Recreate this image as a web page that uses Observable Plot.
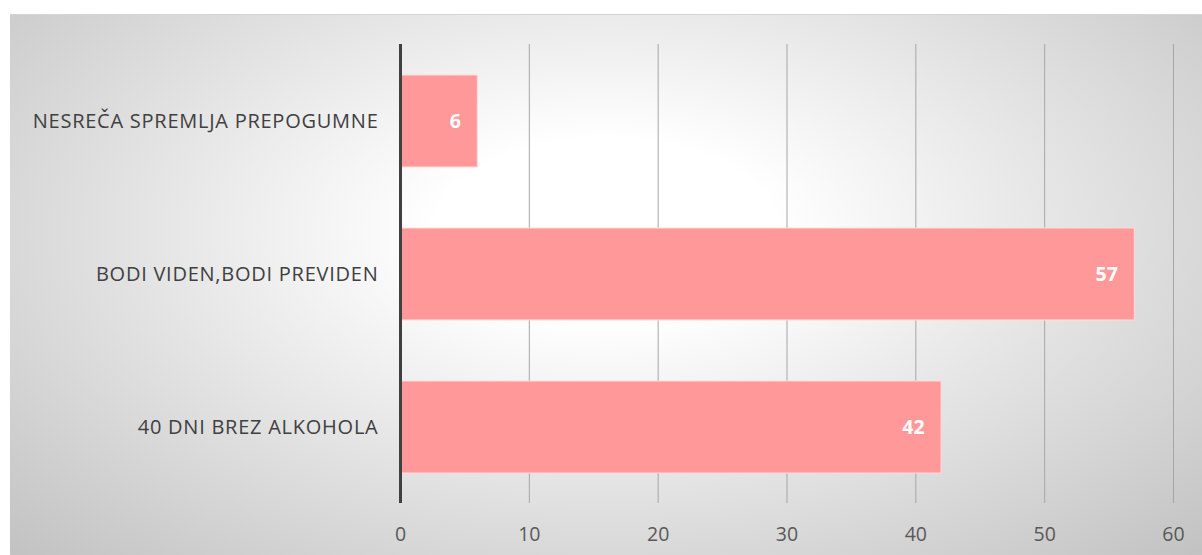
<!DOCTYPE html>
<html>
<head>
<meta charset="utf-8">
<script src="https://cdn.jsdelivr.net/npm/d3@7"></script>
<script src="https://cdn.jsdelivr.net/npm/@observablehq/plot@0.6"></script>
<style>
  html, body { margin: 0; padding: 0; background: #ffffff; }
  #chart { position: absolute; left: 10px; top: 14px; width: 1192px; height: 541px;
    border-top: 1px solid #d4d4d4; box-sizing: border-box;
    background: radial-gradient(ellipse farthest-corner at 50% 40%, #ffffff 0%, #ffffff 20%, #e4e4e4 55%, #c2c2c2 100%); }
  #chart svg { display: block; background: transparent; }
  #chart g[aria-label="y-axis tick label"] text { letter-spacing: 0.75px; }
</style>
</head>
<body>
<div id="chart"></div>
<script>
const categories = ["NESREČA SPREMLJA PREPOGUMNE", "BODI VIDEN,BODI PREVIDEN", "40 DNI BREZ ALKOHOLA"];
const values = [6, 57, 42];
const xTicks = [0, 10, 20, 30, 40, 50, 60];

const data = categories.map((c, i) => ({category: c, value: values[i]}));

const chart = Plot.plot({
  width: 1192,
  height: 540,
  marginLeft: 390,
  marginRight: 29,
  marginTop: 29,
  marginBottom: 52,
  style: {fontFamily: "'Open Sans', sans-serif", background: "transparent"},
  x: {domain: [0, 60], ticks: xTicks, label: null},
  y: {domain: categories, paddingInner: 0.4, paddingOuter: 0.2, label: null},
  marks: [
    Plot.ruleX(xTicks.filter(d => d > 0), {stroke: "#a6a6a6", strokeWidth: 1}),
    Plot.barX(data, {y: "category", x: "value", fill: "#ff9999", stroke: "#ffdada", strokeWidth: 1}),
    Plot.text(data, {y: "category", x: "value", text: d => String(d.value), textAnchor: "end", dx: -17,
      fill: "#ffffff", fontWeight: "bold", fontSize: 19.5}),
    Plot.ruleX([0], {stroke: "#404040", strokeWidth: 3}),
    Plot.axisX({ticks: xTicks, tickSize: 0, tickPadding: 24, fontSize: 19.5, fill: "#595959", label: null}),
    Plot.axisY({tickSize: 0, tickPadding: 22, fontSize: 20, fill: "#404040", label: null})
  ]
});
document.getElementById("chart").appendChild(chart);
</script>
</body>
</html>
